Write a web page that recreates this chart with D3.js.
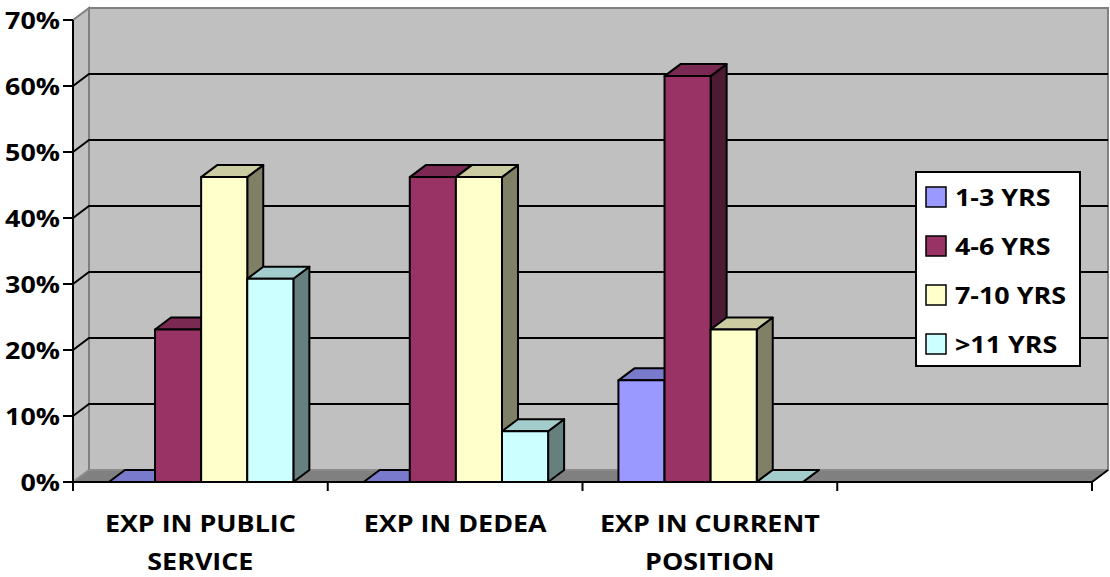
<!DOCTYPE html>
<html>
<head>
<meta charset="utf-8">
<script src="https://cdn.jsdelivr.net/npm/d3@7"></script>
<style>
  body { margin: 0; background: #fff; }
  svg { display: block; }
  text { font-family: "Open Sans", sans-serif; font-weight: 700; fill: #000; }
</style>
</head>
<body>
<div id="chart"></div>
<script>
// data
var categories = ["EXP IN PUBLIC SERVICE", "EXP IN DEDEA", "EXP IN CURRENT POSITION", ""];
var series = ["1-3 YRS", "4-6 YRS", "7-10 YRS", ">11 YRS"];
var seriesColors = ["#9999FF", "#993366", "#FFFFCC", "#CCFFFF"];
var yrs1to3 = [0, 0, 0.154];
var yrs4to6 = [0.231, 0.462, 0.615];
var yrs7to10 = [0.462, 0.462, 0.231];
var yrsOver11 = [0.308, 0.077, 0];
var seriesValues = [yrs1to3, yrs4to6, yrs7to10, yrsOver11];
var yTicks = [0, 0.1, 0.2, 0.3, 0.4, 0.5, 0.6, 0.7];

function drawChart() {
  var width = 1110, height = 577;
  var plotLeft = 73, plotRight = 1092, plotBottom = 482, plotTop = 20;
  var dx = 16, dy = -12;     // depth offset of the 3d box
  var sx = 1.12;             // horizontal stretch of the text

  var svg = d3.select("#chart").append("svg")
    .attr("width", width)
    .attr("height", height);

  var x = d3.scaleBand().domain(d3.range(categories.length)).range([plotLeft, plotRight]);
  var xs = d3.scaleBand().domain(series)
    .range([x.bandwidth() * 0.141, x.bandwidth() * 0.865]);
  var y = d3.scaleLinear().domain([0, 0.7]).range([plotBottom, plotTop]);
  var color = d3.scaleOrdinal().domain(series).range(seriesColors);

  function pts(a) { return a.map(function(p) { return p.join(","); }).join(" "); }
  function shade(c, k) {
    var r = d3.rgb(c);
    return d3.rgb(r.r * k, r.g * k, r.b * k).formatHex();
  }

  var yMax = y(0.7);

  // walls
  svg.append("polygon")
    .attr("points", pts([[plotLeft, yMax], [plotLeft + dx, yMax + dy], [plotLeft + dx, plotBottom + dy], [plotLeft, plotBottom]]))
    .attr("fill", "#C0C0C0").attr("stroke", "#808080").attr("stroke-width", 2);
  svg.append("rect")
    .attr("x", plotLeft + dx).attr("y", yMax + dy)
    .attr("width", plotRight - plotLeft).attr("height", plotBottom - yMax)
    .attr("fill", "#C0C0C0").attr("stroke", "#808080").attr("stroke-width", 2);

  // gridlines
  var grid = svg.append("g");
  yTicks.filter(function(t) { return t > 0 && t < 0.7; }).forEach(function(t) {
    grid.append("polyline")
      .attr("points", pts([[plotLeft, y(t)], [plotLeft + dx, y(t) + dy], [plotRight + dx, y(t) + dy]]))
      .attr("fill", "none").attr("stroke", "#000").attr("stroke-width", 2);
  });

  // floor
  svg.append("polygon")
    .attr("points", pts([[plotLeft, plotBottom], [plotRight, plotBottom], [plotRight + dx, plotBottom + dy], [plotLeft + dx, plotBottom + dy]]))
    .attr("fill", "#808080").attr("stroke", "#999").attr("stroke-width", 1);
  svg.append("line")
    .attr("x1", plotRight).attr("y1", plotBottom).attr("x2", plotRight + dx).attr("y2", plotBottom + dy)
    .attr("stroke", "#000").attr("stroke-width", 2);

  // bars, collected then drawn left to right so each bar hides the side of its left neighbour
  var barList = [];
  series.forEach(function(s, si) {
    seriesValues[si].forEach(function(v, ci) {
      barList.push({ s: s, v: v, xl: x(ci) + xs(s) });
    });
  });
  barList.sort(function(a, b) { return a.xl - b.xl; });

  var bars = svg.append("g");
  barList.forEach(function(d) {
    var xl = d.xl, xr = xl + xs.bandwidth(), yt = y(d.v);
    var c = color(d.s);
    var g = bars.append("g")
      .attr("stroke", "#000").attr("stroke-width", 2).attr("stroke-linejoin", "round");
    g.append("polygon")
      .attr("points", pts([[xr, yt], [xr + dx, yt + dy], [xr + dx, plotBottom + dy], [xr, plotBottom]]))
      .attr("fill", shade(c, 0.5));
    g.append("polygon")
      .attr("points", pts([[xl, yt], [xr, yt], [xr + dx, yt + dy], [xl + dx, yt + dy]]))
      .attr("fill", shade(c, 0.8));
    g.append("rect")
      .attr("x", xl).attr("y", yt).attr("width", xr - xl).attr("height", plotBottom - yt)
      .attr("fill", c);
  });

  // axes
  svg.append("line")
    .attr("x1", plotLeft).attr("y1", yMax).attr("x2", plotLeft).attr("y2", plotBottom + 1)
    .attr("stroke", "#000").attr("stroke-width", 2);
  svg.append("line")
    .attr("x1", plotLeft - 1).attr("y1", plotBottom).attr("x2", plotRight).attr("y2", plotBottom)
    .attr("stroke", "#000").attr("stroke-width", 2);

  var yAxis = svg.append("g");
  yTicks.forEach(function(t) {
    yAxis.append("line")
      .attr("x1", plotLeft - 10).attr("y1", y(t)).attr("x2", plotLeft).attr("y2", y(t))
      .attr("stroke", "#000").attr("stroke-width", 2);
    yAxis.append("text")
      .attr("transform", "translate(" + 60 + "," + (y(t) + 8.5) + ") scale(" + sx + ",1)")
      .attr("text-anchor", "end")
      .style("font-size", "24px")
      .text(d3.format(".0%")(t));
  });

  var xAxis = svg.append("g");
  d3.range(categories.length + 1).forEach(function(i) {
    var xx = i < categories.length ? x(i) : plotRight;
    xAxis.append("line")
      .attr("x1", xx).attr("y1", plotBottom).attr("x2", xx).attr("y2", plotBottom + 9)
      .attr("stroke", "#000").attr("stroke-width", 2);
  });

  categories.forEach(function(name, i) {
    if (!name) return;
    var cx = x(i) + x.bandwidth() / 2;
    var maxW = x.bandwidth() - 16;
    var probe = svg.append("text").style("font-size", "24px");
    var words = name.split(" "), lines = [], line = [];
    words.forEach(function(w) {
      probe.text(line.concat([w]).join(" "));
      if (line.length && probe.node().getComputedTextLength() * sx > maxW) {
        lines.push(line.join(" "));
        line = [w];
      } else {
        line.push(w);
      }
    });
    lines.push(line.join(" "));
    probe.remove();
    lines.forEach(function(l, k) {
      xAxis.append("text")
        .attr("transform", "translate(" + cx + "," + (plotBottom + 50 + k * 38) + ") scale(" + sx + ",1)")
        .attr("text-anchor", "middle")
        .style("font-size", "24px")
        .text(l);
    });
  });

  // legend
  var legend = svg.append("g").attr("transform", "translate(916,172)");
  legend.append("rect")
    .attr("width", 164).attr("height", 194)
    .attr("fill", "#fff").attr("stroke", "#000").attr("stroke-width", 2);
  series.forEach(function(s, i) {
    var cy = 25 + i * 49;
    legend.append("rect")
      .attr("x", 10).attr("y", cy - 10).attr("width", 20).attr("height", 20)
      .attr("fill", color(s)).attr("stroke", "#000").attr("stroke-width", 1.5);
    legend.append("text")
      .attr("transform", "translate(39," + (cy + 9) + ") scale(" + sx + ",1)")
      .style("font-size", "24px")
      .text(s);
  });
}

drawChart();
</script>
</body>
</html>
